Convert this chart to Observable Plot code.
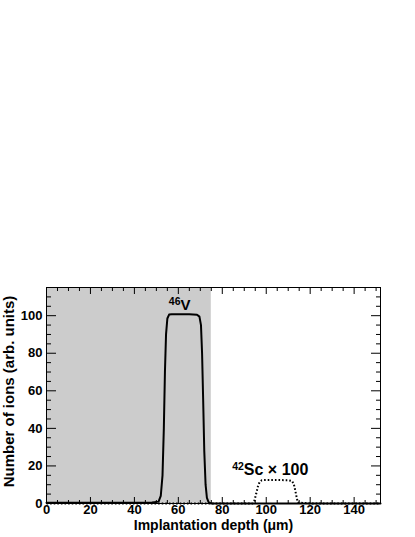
<!DOCTYPE html>
<html><head><meta charset="utf-8">
<script src="https://cdn.jsdelivr.net/npm/d3@7"></script>
<script src="https://cdn.jsdelivr.net/npm/@observablehq/plot@0.6"></script>
<style>html,body{margin:0;padding:0;background:#fff} svg{display:block}</style>
</head><body><div id="chart"></div>
<script>
// 46V implantation profile (arb. units)
const vDepth = [0, 10, 20, 30, 40, 48, 51, 52, 52.8, 53.4, 53.9, 54.4, 55, 55.8, 57, 60, 65, 68.5, 69.6, 70.3, 70.8, 71.3, 71.8, 72.4, 73, 73.8, 75, 80, 100, 120, 152];
const vIons   = [0.4, 0.4, 0.4, 0.4, 0.4, 0.5, 1, 4, 15, 40, 70, 90, 98.5, 100.6, 100.8, 100.8, 100.7, 100.5, 99.5, 95, 80, 55, 28, 10, 3, 0.6, 0, 0, 0, 0, 0];
// 42Sc implantation profile x 100
const scDepth = [0, 20, 40, 60, 80, 93.8, 94.6, 95.4, 96.2, 97, 98, 100, 105, 110, 111.8, 112.6, 113.2, 113.8, 114.4, 120, 140, 152];
const scIons  = [0, 0, 0, 0, 0, 0, 1.5, 5, 9, 11.5, 12.4, 12.5, 12.5, 12.4, 12, 10, 7, 3.5, 0.5, 0, 0, 0];
// shaded depth band
const shadeStart = [0];
const shadeEnd = [75];
// axes
const xDomain = [0, 152];
const yDomain = [0, 115];
const xMajorTicks = [0, 20, 40, 60, 80, 100, 120, 140];
const xMinorTicks = [5, 10, 15, 25, 30, 35, 45, 50, 55, 65, 70, 75, 85, 90, 95, 105, 110, 115, 125, 130, 135, 145, 150];
const yMajorTicks = [0, 20, 40, 60, 80, 100];
const yMinorTicks = [5, 10, 15, 25, 30, 35, 45, 50, 55, 65, 70, 75, 85, 90, 95, 105, 110];
const xTitle = "Implantation depth (μm)";
const yTitle = "Number of ions (arb. units)";
// curve labels
const labelSup = ["46", "42"];
const labelMain = ["V", "Sc × 100"];
const labelX = [61, 89.8];
const labelY = [102.8, 15];
const labelSize = [15, 16];

const vData = vDepth.map((x, i) => ({x, y: vIons[i]}));
const scData = scDepth.map((x, i) => ({x, y: scIons[i]}));
const shade = shadeStart.map((x1, i) => ({x1, x2: shadeEnd[i]}));
const labels = labelMain.map((m, i) => ({sup: labelSup[i], main: m, x: labelX[i], y: labelY[i], size: labelSize[i]}));

const font = "'Liberation Sans', Arial, Helvetica, sans-serif";
const chart = Plot.plot({
  width: 415, height: 537,
  marginLeft: 46, marginRight: 35, marginTop: 287, marginBottom: 34,
  x: {domain: xDomain},
  y: {domain: yDomain},
  style: {fontFamily: font, fontWeight: "bold", background: "white", color: "black", overflow: "visible"},
  marks: [
    Plot.rect(shade, {x1: "x1", x2: "x2", fill: "#cccccc"}),
    Plot.line(scData, {x: "x", y: "y", stroke: "black", strokeWidth: 2, strokeDasharray: "1.6,2", strokeLinecap: "butt"}),
    Plot.line(vData, {x: "x", y: "y", stroke: "black", strokeWidth: 2}),
    Plot.axisX(xMinorTicks, {anchor: "bottom", tickSize: -3, fill: "none", label: null}),
    Plot.axisX(xMinorTicks, {anchor: "top", tickSize: -3, fill: "none", label: null}),
    Plot.axisX(xMajorTicks, {anchor: "bottom", tickSize: -6, fill: "none", label: null}),
    Plot.axisX(xMajorTicks, {anchor: "top", tickSize: -6, fill: "none", label: null}),
    Plot.axisY(yMinorTicks, {anchor: "left", tickSize: -5, fill: "none", label: null}),
    Plot.axisY(yMinorTicks, {anchor: "right", tickSize: -5, fill: "none", label: null}),
    Plot.axisY(yMajorTicks, {anchor: "left", tickSize: -10, fill: "none", label: null}),
    Plot.axisY(yMajorTicks, {anchor: "right", tickSize: -10, fill: "none", label: null}),
    Plot.axisX(xMajorTicks, {anchor: "bottom", tickSize: 0, tickPadding: 1, fontSize: 13, label: null, tickFormat: d => String(d)}),
    Plot.axisY(yMajorTicks, {anchor: "left", tickSize: 0, tickPadding: 4, fontSize: 13, label: null, tickFormat: d => String(d)}),
    Plot.frame({stroke: "black", strokeWidth: 1}),
    Plot.text([xTitle], {frameAnchor: "bottom", dy: 22, lineAnchor: "middle", textAnchor: "middle", fontSize: 14, fontWeight: "bold"}),
    Plot.text([yTitle], {frameAnchor: "left", rotate: -90, dx: -37, dy: -4, lineAnchor: "middle", textAnchor: "middle", fontSize: 15, fontWeight: "bold"}),
    Plot.text(labels, {x: "x", y: "y", text: "main", textAnchor: "start", lineAnchor: "bottom", fontSize: d => d.size, fontWeight: "bold"}),
    Plot.text(labels, {x: "x", y: "y", text: "sup", textAnchor: "end", lineAnchor: "bottom", dy: -5, fontSize: 10.5, fontWeight: "bold"})
  ]
});
document.getElementById("chart").appendChild(chart);
</script>
</body></html>
